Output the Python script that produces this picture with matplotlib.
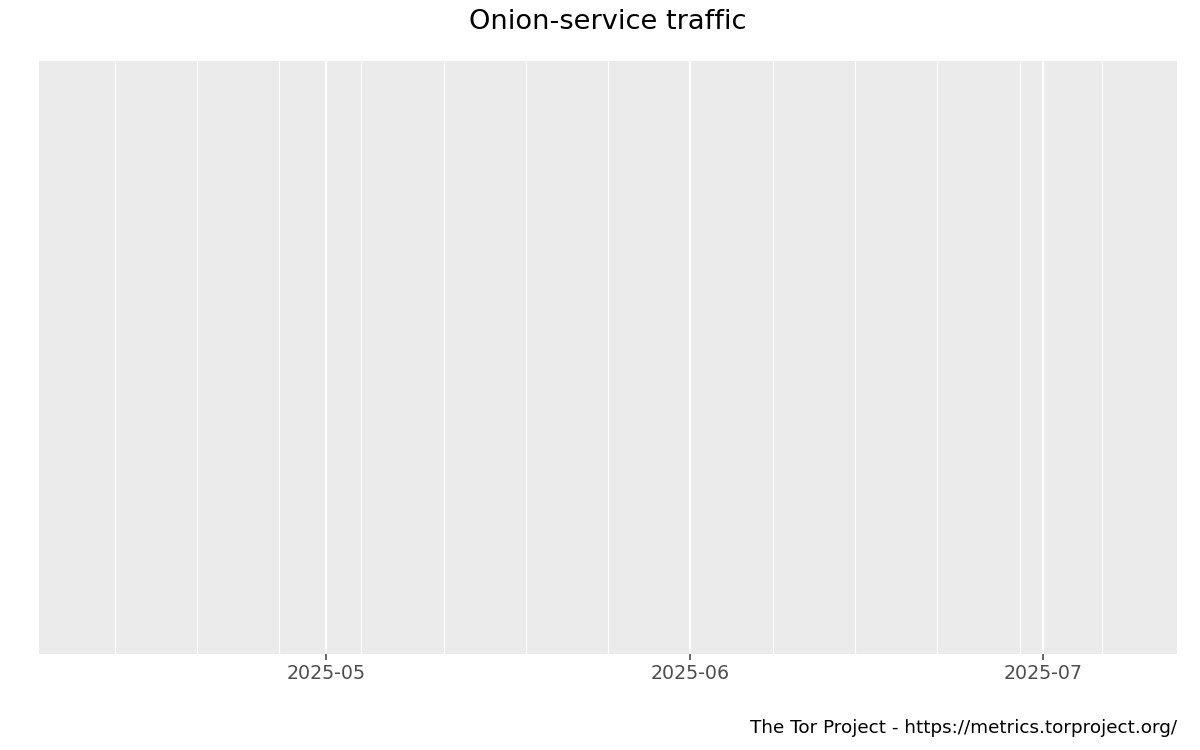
import matplotlib
matplotlib.use("Agg")
import matplotlib.pyplot as plt
import matplotlib.dates as mdates
import datetime as dt

title = "Onion-service traffic"
caption = "The Tor Project - https://metrics.torproject.org/"
major_dates = ["2025-05-01", "2025-06-01", "2025-07-01"]
major_labels = ["2025-05", "2025-06", "2025-07"]
minor_dates = ["2025-04-13", "2025-04-20", "2025-04-27", "2025-05-04", "2025-05-11",
               "2025-05-18", "2025-05-25", "2025-06-08", "2025-06-15", "2025-06-22",
               "2025-06-29", "2025-07-06"]
x_range = ["2025-04-06 13:45", "2025-07-12 09:36"]
dates = []
traffic = []

def d(s):
    fmt = "%Y-%m-%d %H:%M" if " " in s else "%Y-%m-%d"
    return dt.datetime.strptime(s, fmt)

plt.rcParams['font.family'] = ['DejaVu Sans']
fig = plt.figure(figsize=(12, 7.5), dpi=100)
ax = fig.add_axes([39/1200, 1 - 654/750, (1177 - 39)/1200, (654 - 61)/750])
ax.set_facecolor("#EBEBEB")
ax.plot([d(s) for s in dates], traffic, color="black")
ax.set_xlim(d(x_range[0]), d(x_range[1]))
ax.set_ylim(0, 1)
for s in minor_dates:
    ax.axvline(d(s), color="white", lw=0.8, zorder=0.5)
for s in major_dates:
    ax.axvline(d(s), color="white", lw=1.6, zorder=0.6)
ax.set_xticks([d(s) for s in major_dates])
ax.set_xticklabels(major_labels)
ax.set_yticks([])
ax.tick_params(axis="x", colors="#4D4D4D", labelcolor="#4D4D4D", labelsize=13.7,
               length=4, width=1.2, pad=3)
for sp in ax.spines.values():
    sp.set_visible(False)
fig.text(0.5 + (39 + 1177 - 1200) / 2400, 1 - 22/750, title, ha="center", va="center",
         fontsize=19.6, color="black")
fig.text(1177/1200, 1 - 728/750, caption, ha="right", va="center", fontsize=13.2, color="black")
fig.savefig("out.png", dpi=100)
